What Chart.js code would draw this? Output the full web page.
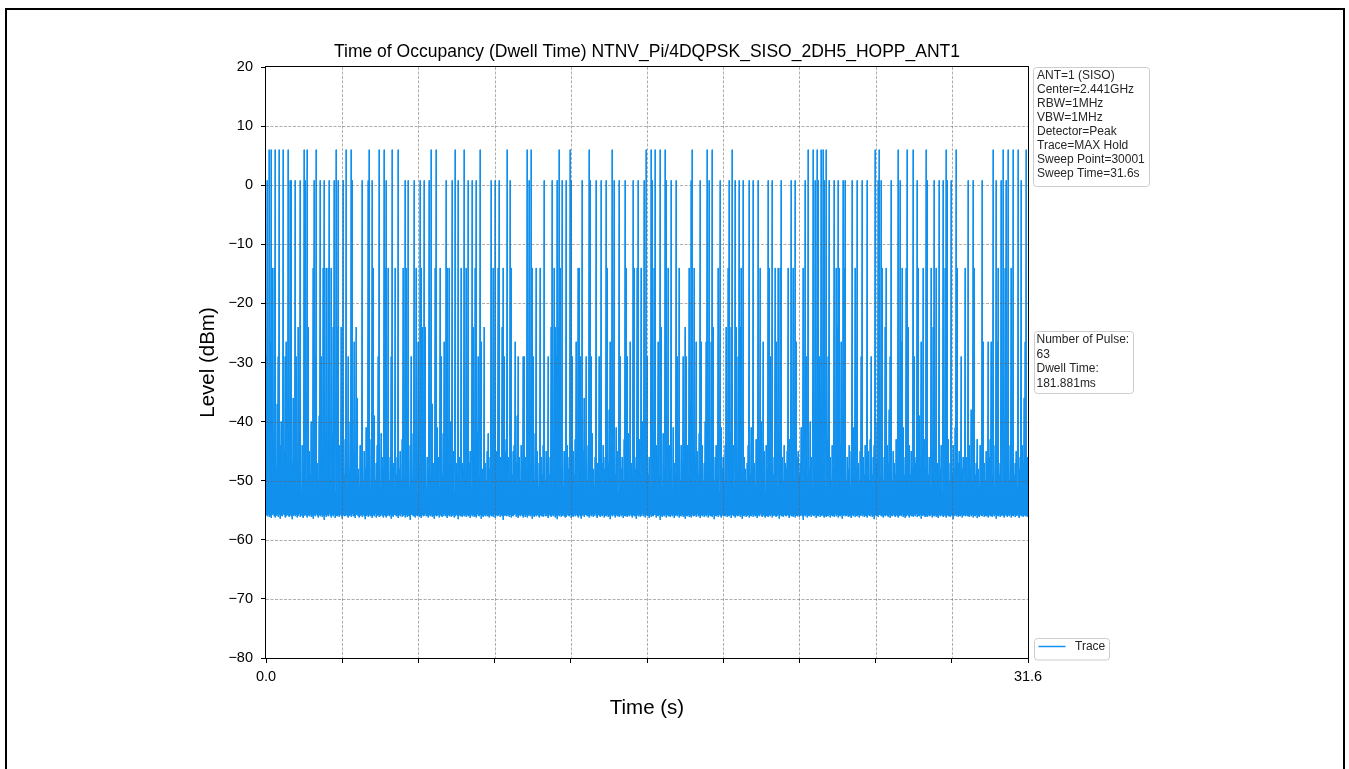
<!DOCTYPE html>
<html><head><meta charset="utf-8">
<style>
html,body{margin:0;padding:0;background:#fff;overflow:hidden;}
#wrap{position:relative;width:1349px;height:769px;}
#frame{position:absolute;left:5px;top:8px;width:1340px;height:800px;border:2px solid #000;box-sizing:border-box;pointer-events:none;}
canvas{position:absolute;left:0;top:0;}
</style>
<script src="https://cdn.jsdelivr.net/npm/chart.js@4.4.1/dist/chart.umd.min.js"></script>
</head><body><div id="wrap"><canvas id="c" width="1349" height="769"></canvas><div id="frame"></div></div>
<script>
// ---------------- data ----------------
const titleText = 'Time of Occupancy (Dwell Time) NTNV_Pi/4DQPSK_SISO_2DH5_HOPP_ANT1';
const xTitle = 'Time (s)';
const yTitle = 'Level (dBm)';
const sweepTime = 31.6;
const yMin = -80, yMax = 20;
const yTicks = [-80, -70, -60, -50, -40, -30, -20, -10, 0, 10, 20];
const xTickValues = [0, 3.16, 6.32, 9.48, 12.64, 15.8, 18.96, 22.12, 25.28, 28.44, 31.6];
const xTickLabels = ['0.0', '', '', '', '', '', '', '', '', '', '31.6'];
const infoLines = ['ANT=1 (SISO)', 'Center=2.441GHz', 'RBW=1MHz', 'VBW=1MHz', 'Detector=Peak', 'Trace=MAX Hold', 'Sweep Point=30001', 'Sweep Time=31.6s'];
const pulseLines = ['Number of Pulse:', '63', 'Dwell Time:', '181.881ms'];
const seriesLabel = 'Trace';

// hop bursts: peak level per group (dBm) and burst times (s)
const spikeLevels = [6, 0.8, -14, -24, -26.5, -29];
const spikeTimes = [
  [0.13,0.24,0.40,0.54,0.72,0.95,1.58,1.73,2.10,2.93,3.35,3.53,4.29,4.69,4.91,5.24,5.49,6.87,7.08,7.84,8.25,8.88,10.02,
   10.84,11.02,12.19,12.61,13.41,14.38,15.79,15.99,16.17,16.34,16.55,17.69,18.32,18.51,19.35,
   22.49,22.70,22.88,23.04,23.11,23.25,25.26,25.46,26.22,26.61,26.85,27.40,28.23,28.64,30.16,30.58,30.78,30.99,31.20,31.54],
  [0.07,1.00,1.07,1.23,1.45,1.65,2.03,2.24,2.42,2.63,2.83,3.00,3.21,3.58,4.00,4.24,4.41,5.00,5.77,5.90,6.15,6.39,6.59,6.77,7.49,7.74,7.98,8.39,8.56,8.75,9.36,9.50,9.70,10.12,
   10.92,11.53,11.87,12.08,12.30,12.47,12.68,13.13,13.44,13.71,13.92,14.10,14.47,14.68,14.89,15.23,15.44,15.68,16.04,16.62,16.82,17.03,17.65,18.00,18.41,18.83,19.21,19.45,19.63,19.82,20.04,20.21,20.42,20.83,21.01,
   21.38,21.80,21.97,22.38,22.77,22.93,23.18,23.35,23.57,23.73,23.94,24.04,24.32,24.54,24.73,24.95,25.39,25.53,25.95,26.33,27.02,27.42,27.72,27.91,28.09,28.27,28.41,29.13,29.33,29.71,30.30,30.51,30.72,31.31],
  [0.26,0.35,0.93,1.62,1.96,2.38,2.49,2.59,2.72,4.45,4.94,5.10,5.38,5.70,5.83,6.25,6.46,7.01,7.22,7.52,7.63,8.12,8.32,8.67,9.43,9.64,9.84,10.19,
   11.06,11.20,11.39,11.57,11.98,12.10,12.22,12.95,13.02,14.16,14.96,15.30,15.40,15.58,16.13,16.36,16.68,17.14,17.58,17.76,18.76,19.17,19.49,19.73,20.49,20.90,21.25,
   21.11,21.32,21.66,21.87,22.28,22.51,23.67,23.80,24.01,24.43,24.75,25.55,25.74,26.39,26.57,27.05,27.26,27.44,27.61,27.81,28.16,28.66,29.00,29.40,30.37,30.65,30.92],
  [0.36,1.34,1.76,2.79,2.95,3.14,3.76,5.92,6.47,6.61,7.03,8.60,9.08,9.51,9.80,
   11.85,12.00,12.12,12.62,16.16,16.41,16.56,17.38,18.55,19.10,19.31,19.52,19.66,
   23.13,23.68,25.27,25.67,26.64,27.67],
  [0.17,0.86,1.60,2.86,3.69,6.32,7.42,8.94,10.33,
   12.88,14.27,15.10,16.27,17.86,18.07,18.27,18.48,20.62,20.85,
   21.18,21.68,22.01,22.78,23.87,24.44,25.96,26.36,27.19,28.68,29.75,29.96,30.09,30.32,31.48],
  [0.03,0.51,0.79,1.27,2.05,2.31,3.42,4.66,5.21,6.04,6.63,7.29,8.81,9.66,9.91,10.47,10.67,
   10.74,11.09,11.71,12.05,12.69,13.04,13.30,13.51,13.85,14.70,14.98,15.80,17.05,17.31,17.45,19.19,19.59,19.79,20.07,20.23,20.92,
   22.42,22.97,23.32,24.03,24.70,25.12,25.57,25.88,26.66,26.91,28.18,28.85,29.97,30.60,30.80]
];

// top of the noise band, one value per 1/762 of the sweep (dBm)
const bandTop = [
-47,-44,-50,-38,-46,-49,-41,-45,-52,-43,-48,-37,-46,-50,-44,-40,-47,-51,-45,-42,
-49,-46,-39,-48,-44,-51,-47,-36,-45,-50,-43,-48,-46,-41,-49,-52,-44,-47,-38,-45,
-50,-43,-47,-45,-49,-40,-46,-51,-44,-48,-42,-47,-50,-39,-45,-49,-46,-43,-51,-47,
-44,-48,-37,-46,-50,-45,-42,-49,-47,-52,-41,-46,-48,-44,-50,-38,-47,-45,-49,-43,
-46,-51,-44,-48,-40,-47,-50,-45,-43,-49,-46,-36,-48,-51,-44,-47,-42,-50,-45,-48,
-41,-47,-49,-45,-52,-43,-48,-46,-39,-50,-47,-44,-49,-45,-51,-42,-46,-48,-37,-47,
-49,-45,-43,-50,-46,-48,-41,-47,-51,-44,-49,-46,-40,-48,-45,-50,-43,-47,-49,-44,
-48,-38,-46,-51,-44,-47,-50,-42,-45,-49,-46,-52,-43,-47,-39,-48,-50,-45,-44,-46,
-51,-46,-48,-43,-49,-45,-37,-47,-50,-44,-48,-41,-46,-51,-45,-47,-49,-42,-48,-45,
-44,-49,-47,-50,-40,-46,-48,-45,-52,-43,-47,-49,-38,-46,-50,-44,-47,-48,-41,-49,
-46,-43,-50,-47,-45,-51,-39,-48,-44,-46,-50,-42,-47,-49,-45,-36,-48,-51,-44,-47,
-50,-45,-42,-48,-46,-49,-44,-51,-40,-47,-45,-48,-50,-43,-46,-49,-38,-47,-52,-45,
-43,-48,-46,-50,-41,-47,-49,-45,-44,-51,-47,-39,-48,-46,-50,-44,-47,-42,-49,-46,
-48,-51,-45,-37,-47,-49,-44,-46,-50,-42,-48,-45,-51,-47,-40,-46,-49,-44,-48,-50,
-45,-47,-43,-49,-46,-52,-41,-48,-45,-47,-50,-44,-38,-49,-46,-48,-43,-51,-45,-47,
-49,-44,-48,-46,-39,-50,-47,-45,-49,-43,-46,-51,-44,-48,-47,-41,-50,-45,-36,-48,
-47,-50,-44,-46,-49,-45,-42,-48,-51,-46,-43,-47,-49,-40,-45,-50,-47,-44,-48,-46,
-51,-45,-47,-38,-48,-44,-50,-46,-47,-49,-41,-45,-52,-47,-44,-48,-46,-50,-43,-49,
-46,-48,-42,-50,-45,-47,-49,-44,-37,-48,-46,-51,-45,-43,-49,-47,-40,-46,-50,-44,
-48,-43,-49,-46,-51,-40,-47,-45,-48,-50,-44,-46,-39,-49,-47,-45,-51,-42,-48,-46,
-45,-50,-47,-44,-48,-46,-52,-41,-47,-49,-45,-38,-48,-46,-50,-44,-47,-49,-43,-51,
-47,-44,-49,-45,-37,-48,-50,-46,-43,-47,-51,-45,-49,-42,-46,-48,-44,-50,-47,-40,
-49,-46,-43,-51,-47,-45,-48,-39,-50,-46,-44,-49,-47,-52,-45,-41,-48,-46,-50,-44,
-46,-50,-45,-48,-42,-47,-49,-44,-51,-38,-46,-48,-45,-50,-47,-43,-49,-36,-46,-48,
-50,-47,-44,-46,-49,-41,-48,-45,-47,-51,-43,-46,-50,-44,-48,-40,-47,-49,-45,-52,
-44,-48,-46,-50,-45,-47,-39,-49,-46,-43,-48,-51,-45,-47,-42,-49,-46,-50,-44,-47,
-48,-45,-51,-43,-47,-49,-46,-44,-50,-37,-48,-46,-45,-49,-47,-41,-50,-44,-48,-46,
-47,-49,-44,-48,-40,-46,-51,-45,-47,-49,-43,-48,-46,-50,-38,-45,-47,-49,-44,-51,
-45,-43,-49,-47,-46,-50,-44,-48,-42,-47,-49,-45,-51,-46,-44,-48,-39,-50,-47,-45,
-50,-46,-48,-44,-51,-45,-47,-41,-49,-46,-48,-43,-47,-50,-45,-36,-48,-46,-49,-44,
-46,-48,-45,-50,-43,-47,-49,-46,-44,-52,-47,-40,-48,-45,-49,-47,-44,-50,-46,-42,
-49,-44,-47,-38,-48,-46,-50,-45,-47,-49,-43,-46,-51,-44,-48,-47,-45,-41,-49,-46,
-47,-50,-46,-44,-49,-45,-48,-51,-42,-47,-46,-49,-44,-39,-48,-50,-45,-47,-43,-48,
-44,-47,-49,-46,-51,-43,-45,-48,-50,-46,-40,-47,-49,-45,-48,-44,-52,-46,-47,-37,
-48,-46,-43,-50,-47,-45,-49,-44,-48,-41,-46,-50,-47,-45,-49,-43,-48,-46,-51,-45,
-46,-49,-47,-44,-48,-38,-50,-46,-45,-49,-47,-43,-48,-51,-44,-46,-49,-42,-47,-50,
-45,-48,-50,-46,-43,-47,-49,-45,-51,-44,-48,-46,-39,-49,-47,-45,-50,-44,-48,-46,
-49,-45,-47,-50,-44,-48,-46,-41,-49,-47,-45,-51,-43,-48,-46,-50,-44,-47,-36,-48,
-47,-46
];

// bottom of the noise band, one value per 1/762 of the sweep (dBm)
const bandFloor = [
-55.8,-56.0,-55.7,-56.1,-55.9,-56.3,-55.8,-55.6,-56.0,-56.2,-55.9,-55.7,-56.1,-55.8,-56.4,-55.9,-56.0,-55.6,-55.8,-56.2,
-56.0,-55.7,-55.9,-56.1,-55.8,-56.0,-56.5,-55.9,-55.7,-56.0,-55.8,-56.2,-55.9,-55.6,-56.1,-55.8,-56.0,-56.3,-55.9,-55.7,
-55.9,-56.2,-55.8,-56.0,-55.7,-56.1,-55.9,-56.4,-55.8,-56.0,-55.6,-55.9,-56.2,-55.8,-56.0,-55.7,-56.1,-55.9,-56.6,-55.8,
-56.1,-55.8,-56.0,-55.6,-55.9,-56.2,-55.8,-56.0,-55.7,-56.3,-55.9,-56.0,-55.8,-56.1,-55.7,-55.9,-56.4,-55.8,-56.0,-55.9,
-55.7,-56.0,-56.2,-55.9,-55.8,-56.1,-55.6,-56.0,-55.9,-56.3,-55.8,-55.7,-56.0,-56.2,-55.9,-55.8,-56.1,-55.7,-56.0,-56.5,
-55.9,-55.8,-56.1,-55.7,-56.0,-55.9,-56.3,-55.8,-56.0,-55.6,-56.2,-55.9,-55.8,-56.1,-56.0,-55.7,-55.9,-56.2,-55.8,-56.0,
-56.2,-55.9,-55.7,-56.0,-55.8,-56.4,-55.9,-56.1,-55.8,-55.7,-56.0,-55.9,-56.3,-55.8,-56.0,-55.6,-56.1,-55.9,-55.8,-56.2,
-55.8,-56.1,-55.9,-56.0,-56.6,-55.8,-55.7,-56.0,-55.9,-56.2,-55.8,-56.0,-55.7,-56.1,-55.9,-56.3,-55.8,-56.0,-55.9,-55.6,
-56.0,-55.9,-56.2,-55.8,-56.0,-55.7,-56.1,-55.9,-56.4,-55.8,-56.0,-55.9,-55.7,-56.2,-55.8,-56.0,-56.1,-55.9,-55.6,-56.0,
-55.9,-56.3,-55.8,-56.0,-55.7,-56.1,-55.9,-55.8,-56.2,-56.0,-55.7,-55.9,-56.5,-55.8,-56.0,-55.9,-56.1,-55.7,-56.0,-55.8,
-56.1,-55.8,-56.0,-55.9,-56.3,-55.7,-56.0,-55.8,-56.1,-55.9,-56.2,-55.6,-55.9,-56.0,-55.8,-56.4,-55.9,-56.1,-55.8,-56.0,
-55.7,-56.0,-55.9,-56.2,-55.8,-56.0,-55.9,-56.1,-55.7,-56.3,-55.8,-56.0,-55.9,-55.7,-56.1,-55.8,-56.0,-56.6,-55.9,-55.8,
-56.0,-55.9,-55.7,-56.1,-55.8,-56.2,-55.9,-56.0,-55.8,-55.6,-56.1,-55.9,-56.3,-55.8,-56.0,-55.7,-55.9,-56.2,-55.8,-56.1,
-55.8,-56.2,-55.9,-55.7,-56.0,-55.8,-56.4,-55.9,-56.1,-55.8,-56.0,-55.7,-55.9,-56.2,-55.8,-56.0,-55.9,-56.1,-55.6,-56.0,
-55.9,-56.0,-56.3,-55.8,-55.9,-56.1,-55.7,-56.0,-55.8,-56.2,-55.9,-56.5,-55.8,-56.0,-55.7,-56.1,-55.9,-55.8,-56.0,-56.2,
-56.1,-55.7,-55.9,-56.0,-55.8,-56.3,-55.9,-56.1,-55.7,-56.0,-55.8,-55.9,-56.2,-55.8,-56.0,-56.4,-55.9,-55.7,-56.1,-55.8,
-55.8,-56.0,-55.9,-56.2,-55.7,-56.0,-55.8,-56.1,-55.9,-55.6,-56.0,-56.3,-55.8,-55.9,-56.1,-55.8,-56.0,-55.7,-56.2,-55.9,
-56.0,-55.8,-56.1,-55.9,-56.5,-55.8,-56.0,-55.7,-55.9,-56.2,-55.8,-56.0,-55.9,-56.1,-55.7,-56.0,-55.8,-56.3,-55.9,-56.0,
-55.9,-56.1,-55.8,-56.0,-55.7,-55.9,-56.2,-55.8,-56.0,-55.9,-56.4,-55.7,-56.0,-55.8,-56.1,-55.9,-55.6,-56.0,-55.8,-56.2,
-55.7,-56.0,-55.9,-56.3,-55.8,-56.1,-55.9,-56.0,-55.7,-55.8,-56.2,-55.9,-56.0,-55.8,-56.6,-55.9,-56.1,-55.8,-56.0,-55.7,
-56.2,-55.8,-56.0,-55.9,-56.1,-55.7,-56.0,-55.8,-56.3,-55.9,-55.8,-56.0,-55.7,-56.2,-55.9,-56.0,-55.8,-56.1,-55.9,-56.4,
-55.9,-56.0,-55.8,-56.1,-55.9,-56.2,-55.7,-56.0,-55.9,-55.8,-56.1,-55.6,-56.0,-55.9,-56.3,-55.8,-56.0,-55.7,-56.1,-55.8,
-56.0,-55.7,-56.2,-55.8,-56.0,-55.9,-56.1,-55.8,-56.5,-55.9,-56.0,-55.8,-56.1,-55.7,-55.9,-56.2,-55.8,-56.0,-55.9,-56.0,
-55.8,-56.1,-55.9,-56.0,-55.7,-56.3,-55.8,-55.9,-56.0,-56.2,-55.8,-56.0,-55.9,-55.7,-56.1,-55.8,-56.4,-55.9,-56.0,-55.8,
-56.1,-55.9,-55.8,-56.2,-55.9,-56.0,-55.7,-56.1,-55.8,-56.0,-55.9,-56.3,-55.8,-56.0,-55.6,-55.9,-56.1,-55.8,-56.0,-56.2,
-55.9,-56.0,-56.1,-55.8,-56.0,-55.7,-56.2,-55.9,-55.8,-56.0,-56.1,-55.9,-55.7,-56.4,-55.8,-56.0,-55.9,-56.1,-55.8,-55.9,
-56.0,-55.8,-55.9,-56.3,-55.7,-56.0,-55.9,-56.1,-55.8,-56.2,-55.9,-56.0,-55.8,-56.1,-55.9,-55.7,-56.0,-56.6,-55.8,-56.0,
-55.8,-56.2,-55.9,-56.0,-55.8,-56.1,-55.7,-55.9,-56.0,-55.8,-56.3,-55.9,-56.0,-55.7,-56.1,-55.9,-55.8,-56.0,-56.2,-55.9,
-56.1,-55.9,-56.0,-55.7,-56.2,-55.8,-56.0,-55.9,-56.1,-55.6,-56.0,-55.8,-56.2,-55.9,-56.0,-55.8,-56.4,-55.9,-55.7,-56.0,
-55.9,-55.8,-56.1,-56.0,-55.9,-56.3,-55.8,-56.0,-55.7,-56.1,-55.9,-56.0,-55.8,-56.2,-55.9,-55.7,-56.0,-55.8,-56.1,-55.9,
-56.0,-56.2,-55.8,-55.9,-56.0,-55.7,-56.1,-55.9,-56.5,-55.8,-56.0,-55.9,-56.1,-55.8,-55.7,-56.0,-55.9,-56.2,-55.8,-56.0,
-55.8,-55.9,-56.1,-55.8,-56.3,-55.9,-56.0,-55.7,-55.9,-56.1,-55.8,-56.0,-56.2,-55.9,-55.8,-56.0,-55.7,-56.1,-55.9,-56.3,
-56.0,-55.7,-55.9,-56.2,-55.8,-56.0,-55.9,-56.1,-55.8,-56.0,-55.6,-56.1,-55.9,-56.0,-55.8,-56.4,-55.9,-55.8,-56.0,-56.1,
-55.9,-56.1,-55.8,-56.0,-55.9,-55.7,-56.2,-55.9,-56.0,-55.8,-56.1,-55.9,-56.3,-55.7,-56.0,-55.8,-55.9,-56.1,-55.8,-56.0,
-56.2,-55.8,-56.0,-55.9,-56.1,-55.8,-56.0,-56.5,-55.9,-55.7,-56.0,-55.8,-56.1,-55.9,-56.0,-55.8,-56.2,-55.9,-55.7,-56.0,
-55.8,-56.0,-55.9,-56.1,-55.7,-56.0,-55.8,-56.2,-55.9,-56.0,-55.8,-56.3,-55.9,-56.1,-55.8,-55.9,-56.0,-55.7,-56.1,-55.9,
-56.0,-55.9,-56.2,-55.8,-56.0,-55.9,-56.1,-55.7,-56.0,-55.8,-56.4,-55.9,-56.0,-55.8,-56.1,-55.9,-55.8,-56.0,-56.2,-55.8,
-55.9,-56.1,-55.8,-56.0,-55.7,-56.2,-55.9,-56.0,-55.8,-56.1,-55.9,-55.7,-56.0,-56.3,-55.8,-56.0,-55.9,-56.1,-55.8,-56.0,
-55.9,-56.1
];

// ---------------- build trace ----------------
const N = bandTop.length;
const binWidth = sweepTime / N;
const tops = bandTop.slice();
spikeTimes.forEach((arr, g) => arr.forEach(t => {
  const b = Math.min(N - 1, Math.floor(t / binWidth));
  tops[b] = Math.max(tops[b], spikeLevels[g]);
}));
const points = [];
for (let i = 0; i < N; i++) {
  const t = (i + 0.25) * binWidth;
  points.push({x: t, y: tops[i]}, {x: t, y: bandFloor[Math.min(bandFloor.length - 1, i)]});
}

const FONT = "'Liberation Sans', Arial, Helvetica, sans-serif";
const traceColor = '#1190ee';
Chart.defaults.font.family = FONT;

function roundBox(ctx, x, y, w, h, r) {
  ctx.beginPath();
  ctx.moveTo(x + r, y);
  ctx.lineTo(x + w - r, y); ctx.quadraticCurveTo(x + w, y, x + w, y + r);
  ctx.lineTo(x + w, y + h - r); ctx.quadraticCurveTo(x + w, y + h, x + w - r, y + h);
  ctx.lineTo(x + r, y + h); ctx.quadraticCurveTo(x, y + h, x, y + h - r);
  ctx.lineTo(x, y + r); ctx.quadraticCurveTo(x, y, x + r, y);
  ctx.closePath();
  ctx.fillStyle = 'rgba(255,255,255,0.85)';
  ctx.fill();
  ctx.strokeStyle = '#cccccc';
  ctx.lineWidth = 1;
  ctx.stroke();
}

const overlay = {
  id: 'overlay',
  afterDatasetsDraw(chart) {
    const {ctx, chartArea: a, scales: {x, y}} = chart;
    ctx.save();
    ctx.beginPath();
    ctx.strokeStyle = 'rgba(95,95,95,0.5)';
    ctx.lineWidth = 1;
    ctx.setLineDash([3, 1.5]);
    yTicks.forEach(v => {
      if (v === yMin || v === yMax) return;
      const py = Math.round(y.getPixelForValue(v)) + 0.5;
      ctx.moveTo(a.left, py); ctx.lineTo(a.right, py);
    });
    xTickValues.forEach((v, i) => {
      if (i === 0 || i === xTickValues.length - 1) return;
      const px = Math.round(x.getPixelForValue(v)) + 0.5;
      ctx.moveTo(px, a.top); ctx.lineTo(px, a.bottom);
    });
    ctx.stroke();
    ctx.setLineDash([]);
    ctx.strokeStyle = '#000';
    ctx.lineWidth = 1;
    ctx.strokeRect(a.left - 0.5, a.top - 0.5, a.right - a.left + 1, a.bottom - a.top + 1);
    ctx.restore();
  },
  afterDraw(chart) {
    const {ctx, chartArea: a} = chart;
    ctx.save();
    ctx.fillStyle = '#000';
    ctx.textAlign = 'center';
    ctx.textBaseline = 'alphabetic';
    ctx.font = '17.5px ' + FONT;
    ctx.fillText(titleText, (a.left + a.right) / 2, 57);
    ctx.font = '20.5px ' + FONT;
    ctx.fillText(xTitle, (a.left + a.right) / 2, 714);
    ctx.save();
    ctx.translate(214, (a.top + a.bottom) / 2);
    ctx.rotate(-Math.PI / 2);
    ctx.fillText(yTitle, 0, 0);
    ctx.restore();

    // info box
    const bx = a.right + 5.5;
    roundBox(ctx, bx, a.top + 0.5, 116, 119, 3);
    ctx.fillStyle = '#262626';
    ctx.textAlign = 'left';
    ctx.textBaseline = 'middle';
    ctx.font = '12px ' + FONT;
    infoLines.forEach((s, i) => ctx.fillText(s, bx + 3.5, a.top + 8.4 + i * 14.1));

    // pulse box
    roundBox(ctx, bx + 1, 331.5, 99, 62, 3);
    ctx.fillStyle = '#262626';
    pulseLines.forEach((s, i) => ctx.fillText(s, bx + 3, 340 + i * 14.4));

    // legend
    roundBox(ctx, bx + 1, 638.5, 75, 21.5, 3);
    ctx.strokeStyle = traceColor;
    ctx.lineWidth = 1.5;
    ctx.beginPath();
    ctx.moveTo(bx + 5, 646.5); ctx.lineTo(bx + 32, 646.5);
    ctx.stroke();
    ctx.fillStyle = '#262626';
    ctx.fillText(seriesLabel, bx + 41.5, 647);
    ctx.restore();
  }
};

new Chart(document.getElementById('c'), {
  type: 'line',
  data: {
    datasets: [{
      label: seriesLabel,
      data: points,
      borderColor: traceColor,
      borderWidth: 1,
      pointRadius: 0,
      fill: false,
      tension: 0
    }]
  },
  options: {
    responsive: false,
    animation: false,
    events: [],
    devicePixelRatio: 1,
    parsing: false,
    layout: {autoPadding: false, padding: {left: 200, right: 321, top: 67, bottom: 0}},
    plugins: {legend: {display: false}, title: {display: false}, tooltip: {enabled: false}},
    scales: {
      x: {
        type: 'linear', min: 0, max: sweepTime,
        afterFit: s => { s.height = 111; },
        afterBuildTicks: s => { s.ticks = xTickValues.map(v => ({value: v})); },
        ticks: {
          autoSkip: false, maxRotation: 0, padding: 5, color: '#000',
          font: {size: 14.5, family: FONT},
          callback: (v, i) => xTickLabels[i]
        },
        grid: {drawOnChartArea: false, drawTicks: true, tickLength: 5, color: '#000', tickColor: '#000', lineWidth: 1},
        border: {display: false}
      },
      y: {
        type: 'linear', min: yMin, max: yMax,
        afterFit: s => { s.width = 66; },
        afterBuildTicks: s => { s.ticks = yTicks.map(v => ({value: v})); },
        ticks: {
          autoSkip: false, padding: 8, color: '#000',
          font: {size: 14.5, family: FONT},
          callback: v => (v < 0 ? '\u2212' + Math.abs(v) : String(v))
        },
        grid: {drawOnChartArea: false, drawTicks: true, tickLength: 5, color: '#000', tickColor: '#000', lineWidth: 1},
        border: {display: false}
      }
    }
  },
  plugins: [overlay]
});
</script></body></html>
